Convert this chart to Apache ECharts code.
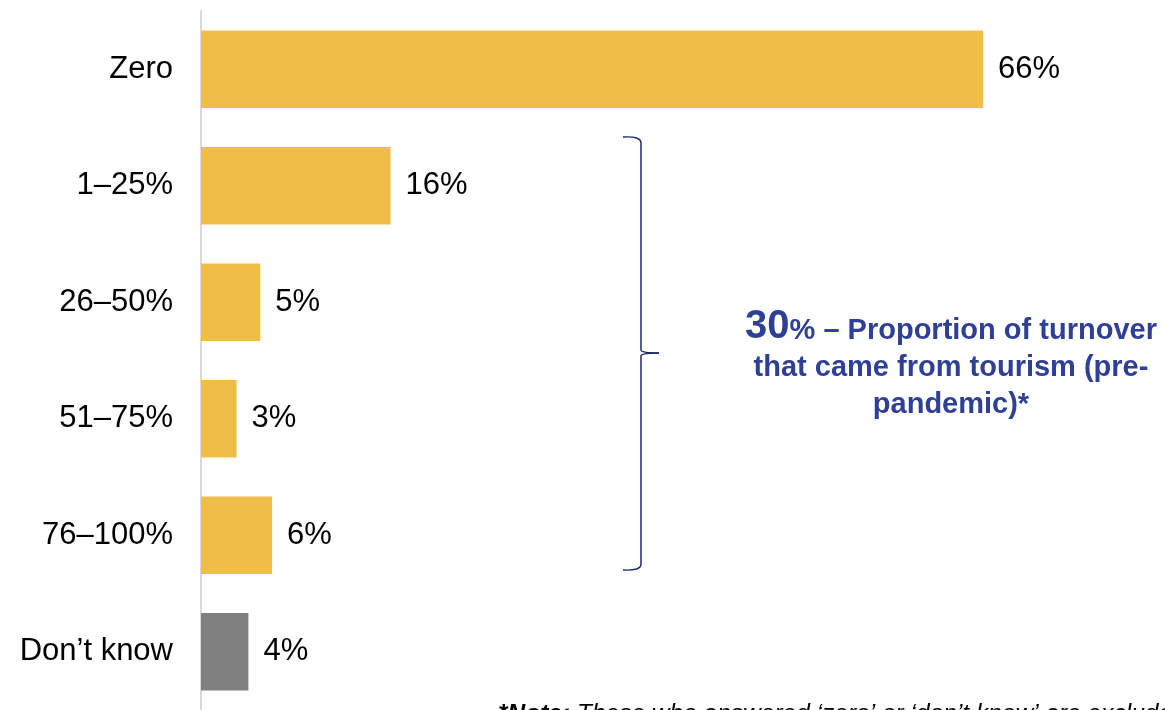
<!DOCTYPE html>
<html>
<head>
<meta charset="utf-8">
<script src="https://cdn.jsdelivr.net/npm/echarts@6/dist/echarts.min.js"></script>
<style>
  html, body { margin: 0; padding: 0; background: #ffffff; }
  #chart { width: 1165px; height: 710px; }
</style>
</head>
<body>
<div id="chart"></div>
<script>
// Share of turnover from tourism (pre-pandemic)
const categories = ['Zero', '1–25%', '26–50%', '51–75%', '76–100%', 'Don’t know'];
const values = [66, 16, 5, 3, 6, 4];
const barColors = ['#F0BE48', '#F0BE48', '#F0BE48', '#F0BE48', '#F0BE48', '#808080'];
const headline = '30';
const headlineRest = '% – Proportion of turnover';
const captionLines = ['that came from tourism (pre-', 'pandemic)*'];
const noteBold = '*Note:';
const noteText = ' These who answered ‘zero’ or ‘don’t know’ are excluded';

const chart = echarts.init(document.getElementById('chart'), null, { renderer: 'canvas' });

const navy = '#2E3F98';
const braceColor = '#1F2A6E';
const font = 'Arial, "Liberation Sans", sans-serif';
const braceStyle = { stroke: braceColor, lineWidth: 1.5, fill: null };

chart.setOption({
  animation: false,
  grid: { left: 201, top: 11, width: 948, height: 704, containLabel: false },
  xAxis: {
    type: 'value', min: 0, max: 80,
    show: false
  },
  yAxis: {
    type: 'category',
    data: categories,
    inverse: true,
    axisLine: { show: true, lineStyle: { color: '#D9D9D9', width: 2 } },
    axisTick: { show: false },
    axisLabel: { color: '#000', fontSize: 31, fontFamily: font, margin: 28 }
  },
  series: [{
    type: 'bar',
    data: values.map((v, i) => ({ value: v, itemStyle: { color: barColors[i] } })),
    barCategoryGap: '33.5%',
    label: {
      show: true, position: 'right', distance: 15,
      formatter: p => p.value + '%',
      color: '#000', fontSize: 31, fontFamily: font
    }
  }],
  graphic: [
    // curly brace grouping the non-zero turnover bands
    { type: 'bezierCurve', shape: { x1: 623, y1: 137, cpx1: 641, cpy1: 136, x2: 641, y2: 143 }, style: braceStyle },
    { type: 'line', shape: { x1: 641, y1: 143, x2: 641, y2: 350 }, style: braceStyle },
    { type: 'bezierCurve', shape: { x1: 641, y1: 350, cpx1: 641, cpy1: 353, x2: 659, y2: 353 }, style: braceStyle },
    { type: 'bezierCurve', shape: { x1: 659, y1: 353, cpx1: 641, cpy1: 353, x2: 641, y2: 356 }, style: braceStyle },
    { type: 'line', shape: { x1: 641, y1: 356, x2: 641, y2: 564 }, style: braceStyle },
    { type: 'bezierCurve', shape: { x1: 641, y1: 564, cpx1: 641, cpy1: 571, x2: 623, y2: 570 }, style: braceStyle },
    {
      type: 'text', x: 951, y: 305,
      style: {
        text: '{big|' + headline + '}{mid|' + headlineRest + '}',
        align: 'center', verticalAlign: 'top',
        rich: {
          big: { fontSize: 40, fontWeight: 'bold', fill: navy, fontFamily: font, lineHeight: 44 },
          mid: { fontSize: 29, fontWeight: 'bold', fill: navy, fontFamily: font, lineHeight: 44, padding: [8, 0, 0, 0] }
        }
      }
    },
    {
      type: 'text', x: 951, y: 349,
      style: {
        text: captionLines.join('\n'),
        align: 'center', verticalAlign: 'top',
        fontSize: 29, fontWeight: 'bold', fill: navy, fontFamily: font,
        lineHeight: 37
      }
    },
    {
      type: 'text', left: 498, top: 702,
      style: {
        text: '{b|' + noteBold + '}{n|' + noteText + '}',
        rich: {
          b: { fontSize: 24.5, fontWeight: 'bold', fontStyle: 'italic', fill: '#000', fontFamily: font },
          n: { fontSize: 24.5, fontStyle: 'italic', fill: '#000', fontFamily: font }
        }
      }
    }
  ]
});
</script>
</body>
</html>
